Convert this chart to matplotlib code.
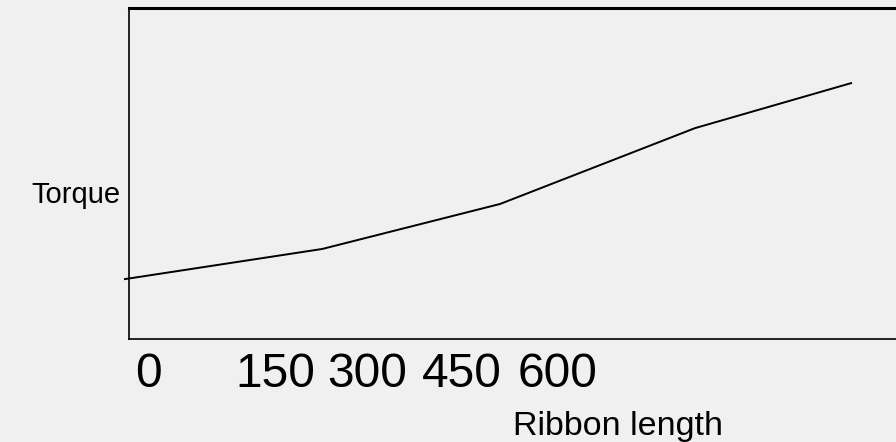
import matplotlib.pyplot as plt

# data
ribbon_length = [0, 163, 310, 471, 600]
torque = [18.1, 27.2, 40.8, 63.7, 77.3]
tick_labels = ["0", "150", "300", "450", "600"]
tick_left_px = [135, 235, 327, 422, 518]

W, H = 896, 442
bg = "#f0f0f0"
plt.rcParams['font.family'] = ['Liberation Sans', 'DejaVu Sans']

fig = plt.figure(figsize=(W / 100, H / 100), dpi=100, facecolor=bg)
ax = fig.add_axes([129 / W, 1 - 339 / H, (905 - 129) / W, (339 - 8) / H])
ax.set_facecolor(bg)

ax.plot(ribbon_length, torque, color="black", lw=1.4, clip_on=False)
ax.set_xlim(3.3, 644.6)
ax.set_ylim(0, 100)
ax.set_xticks([])
ax.set_yticks([])
for s in ["left", "bottom"]:
    ax.spines[s].set_linewidth(1.2)
ax.spines["top"].set_linewidth(2.2)
ax.spines["right"].set_visible(False)

for lab, px in zip(tick_labels, tick_left_px):
    fig.text(px / W, 1 - 387 / H, lab, fontsize=34.5, ha="left", va="baseline")

fig.text(513 / W, 1 - 435 / H, "Ribbon length", fontsize=24.5, ha="left", va="baseline")
fig.text(120 / W, 1 - 203 / H, "Torque", fontsize=21, ha="right", va="baseline")

fig.savefig("out.png", dpi=100, facecolor=bg)
